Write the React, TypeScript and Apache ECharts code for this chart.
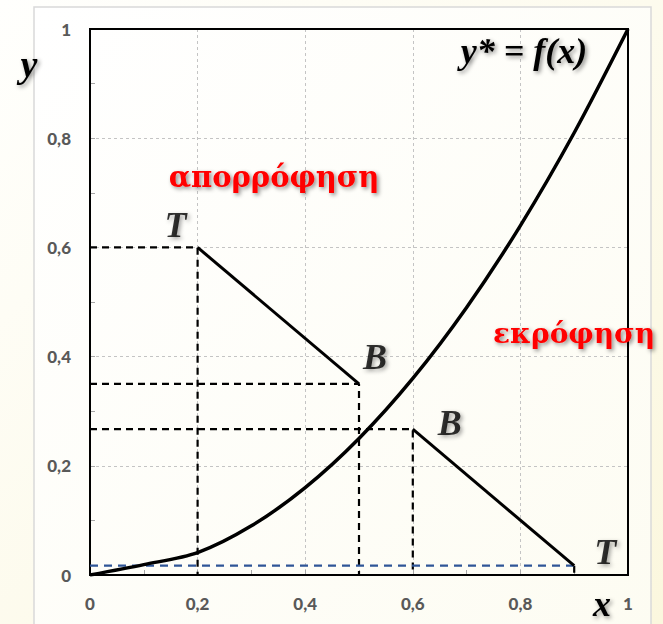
import React, { useEffect, useRef } from "react";
import * as echarts from "echarts";

// Equilibrium curve y* = f(x)
const eqX = [0, 0.1, 0.2, 0.3, 0.4, 0.5, 0.6, 0.7, 0.8, 0.9, 1];
const eqY = [0, 0.019, 0.041, 0.09, 0.16, 0.25, 0.36, 0.49, 0.64, 0.81, 1];

// Operating lines: top (T) and bottom (B) end points
const absorptionX = [0.2, 0.5];
const absorptionY = [0.6, 0.35];
const desorptionX = [0.6, 0.9];
const desorptionY = [0.267, 0.017];

const endLabels = ["T", "B", "B", "T"];
const endOffsets: [number, number][] = [
  [-22, -22],
  [16, -27],
  [37, -6],
  [31, -14],
];

const fmt = (v: number) => String(Number(v.toFixed(1))).replace(".", ",");

const shadow = {
  textShadowColor: "rgba(0,0,0,0.45)",
  textShadowBlur: 4,
  textShadowOffsetX: 2,
  textShadowOffsetY: 2,
};

export default function App() {
  const ref = useRef<HTMLDivElement>(null);

  useEffect(() => {
    if (!ref.current) return;
    const chart = echarts.init(ref.current, null, { renderer: "svg" });

    const eqData = eqX.map((x, i) => [x, eqY[i]]);
    const absData = absorptionX.map((x, i) => [x, absorptionY[i]]);
    const desData = desorptionX.map((x, i) => [x, desorptionY[i]]);

    // dashed projections of each end point onto the axes
    const guidePoints = [absData[0], absData[1], desData[0]];
    const guideData: any[] = [];
    guidePoints.forEach(([x, y]) => {
      guideData.push([0, y], [x, y], [x, 0], "-");
    });
    guideData.push([desData[1][0], desData[1][1]], [desData[1][0], 0]);

    const baseLine = [
      [0, desData[1][1]],
      [desData[1][0], desData[1][1]],
    ];

    const ends = [absData[0], absData[1], desData[0], desData[1]].map((p, i) => ({
      value: p,
      label: {
        show: true,
        formatter: endLabels[i],
        offset: endOffsets[i],
      },
    }));

    const axisCommon = {
      type: "value" as const,
      min: 0,
      max: 1,
      interval: 0.2,
      axisLine: { show: true, onZero: false, lineStyle: { color: "#868686", width: 1.5 } },
      axisTick: { show: true, inside: true, length: 5, lineStyle: { color: "#a6a6a6" } },
      minorTick: { show: true, splitNumber: 2, length: 5, lineStyle: { color: "#a6a6a6" } },
      splitLine: { show: true, lineStyle: { color: "#c4c4c4", type: [3, 3] as any, width: 1 } },
      axisLabel: {
        formatter: fmt,
        color: "#595959",
        fontFamily: "Lato",
        fontWeight: 900 as any,
        fontSize: 17,
      },
    };

    chart.setOption({
      animation: false,
      backgroundColor: new echarts.graphic.LinearGradient(0, 0, 1, 1, [
        { offset: 0, color: "#fffffd" },
        { offset: 1, color: "#fbf7de" },
      ]),
      grid: {
        left: 90,
        right: 35,
        top: 29,
        bottom: 49,
        show: true,
        borderColor: "#000",
        borderWidth: 2,
        backgroundColor: "transparent",
        z: 3,
      },
      xAxis: { ...axisCommon, axisLabel: { ...axisCommon.axisLabel, margin: 20 } },
      yAxis: { ...axisCommon, axisLabel: { ...axisCommon.axisLabel, margin: 19 } },
      graphic: [
        {
          type: "rect",
          z: -10,
          shape: { x: 34, y: 7, width: 617, height: 640 },
          style: {
            fill: new echarts.graphic.LinearGradient(0, 0, 1, 1, [
              { offset: 0, color: "#ffffff" },
              { offset: 1, color: "#fdfcf2" },
            ]),
            stroke: "#d9d9d9",
            lineWidth: 1.5,
          },
        },
        {
          type: "text",
          x: 524,
          y: 51,
          z: 50,
          style: {
            text: "y* = f(x)",
            font: "italic bold 36px 'Liberation Serif'",
            fill: "#000",
            align: "center",
            verticalAlign: "middle",
            ...shadow,
          },
        },
        {
          type: "text",
          x: 274,
          y: 177,
          z: 50,
          style: {
            text: "απορρόφηση",
            font: "bold 29px 'DejaVu Serif'",
            fill: "#ff0000",
            align: "center",
            verticalAlign: "middle",
            ...shadow,
          },
        },
        {
          type: "text",
          x: 493,
          y: 333,
          z: 50,
          style: {
            text: "εκρόφηση",
            font: "bold 28px 'DejaVu Serif'",
            fill: "#ff0000",
            align: "left",
            verticalAlign: "middle",
            ...shadow,
          },
        },
        {
          type: "text",
          x: 29,
          y: 64,
          z: 50,
          style: {
            text: "y",
            font: "italic bold 38px 'Liberation Serif'",
            fill: "#000",
            align: "center",
            verticalAlign: "middle",
            ...shadow,
          },
        },
        {
          type: "text",
          x: 602,
          y: 604,
          z: 50,
          style: {
            text: "x",
            font: "italic bold 36px 'Liberation Serif'",
            fill: "#000",
            align: "center",
            verticalAlign: "middle",
            ...shadow,
          },
        },
      ],
      series: [
        {
          type: "line",
          data: guideData,
          symbol: "none",
          connectNulls: false,
          lineStyle: { color: "#000", width: 2.2, type: [7, 5] },
          z: 4,
        },
        {
          type: "line",
          data: baseLine,
          symbol: "none",
          lineStyle: { color: "#2f5597", width: 2.2, type: [8, 6] },
          z: 4,
        },
        {
          type: "line",
          data: eqData,
          smooth: 0.3,
          symbol: "none",
          lineStyle: { color: "#000", width: 3.5 },
          z: 5,
        },
        {
          type: "line",
          data: absData,
          symbol: "none",
          lineStyle: { color: "#000", width: 3 },
          z: 5,
        },
        {
          type: "line",
          data: desData,
          symbol: "none",
          lineStyle: { color: "#000", width: 3 },
          z: 5,
        },
        {
          type: "scatter",
          data: ends,
          symbolSize: 0,
          z: 6,
          label: {
            position: "inside",
            align: "center",
            verticalAlign: "middle",
            fontFamily: "Liberation Serif",
            fontStyle: "italic",
            fontWeight: "bold",
            fontSize: 36,
            color: "#000",
            ...shadow,
          },
        },
      ],
    });

    return () => chart.dispose();
  }, []);

  return (
    <div
      ref={ref}
      style={{ position: "absolute", left: 0, top: 0, width: 663, height: 624 }}
    />
  );
}
